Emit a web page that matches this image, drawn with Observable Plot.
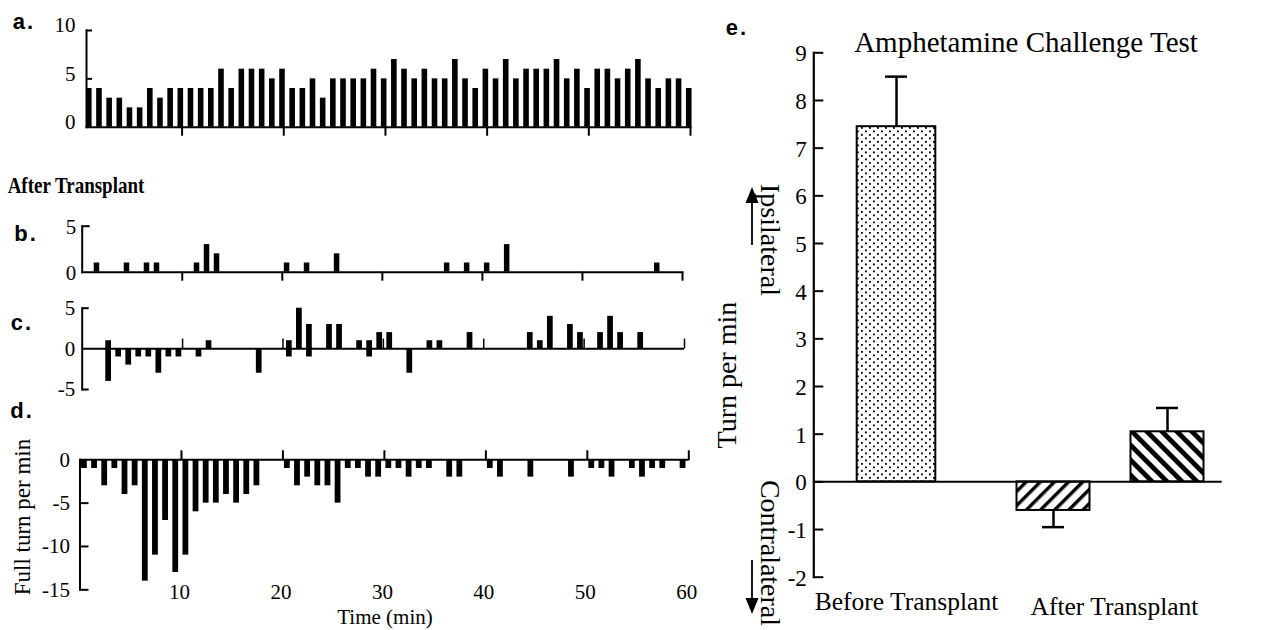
<!DOCTYPE html>
<html>
<head>
<meta charset="utf-8">
<script src="https://cdn.jsdelivr.net/npm/d3@7"></script>
<script src="https://cdn.jsdelivr.net/npm/@observablehq/plot@0.6"></script>
<style>
  html, body { margin: 0; padding: 0; background: #fff; }
  #fig { position: relative; width: 1275px; height: 630px; overflow: hidden; background: #fff; color: #000;
         font-family: "Liberation Serif", "Times New Roman", serif; }
  #fig > svg { position: absolute; }
  .t { position: absolute; white-space: nowrap; line-height: 1; transform: translate(-50%, -50%); }
  .letter { font-family: "Liberation Sans", Arial, sans-serif; font-weight: bold; font-size: 22px; letter-spacing: 2px; }
  .rot-up { transform: translate(-50%, -50%) rotate(-90deg); }
  .rot-down { transform: translate(-50%, -50%) rotate(90deg); }
</style>
</head>
<body>
<div id="fig">
  <div class="t letter" style="left:24px;top:22px">a.</div>
  <div class="t" style="left:76px;top:185px;font-weight:bold;font-size:19px;transform:translate(-50%,-50%) scaleY(1.2)">After Transplant</div>
  <div class="t letter" style="left:26px;top:234px">b.</div>
  <div class="t letter" style="left:22px;top:323px">c.</div>
  <div class="t letter" style="left:22px;top:411px">d.</div>
  <div class="t rot-up" style="left:22px;top:517px;font-size:23px">Full turn per min</div>
  <div class="t" style="left:385px;top:617px;font-size:21px">Time (min)</div>
  <div class="t letter" style="left:737px;top:28px">e.</div>
  <div class="t" style="left:1026px;top:42px;font-size:29px">Amphetamine Challenge Test</div>
  <div class="t rot-up" style="left:727px;top:375px;font-size:28px">Turn per min</div>
  <div class="t rot-down" style="left:770px;top:240px;font-size:28px">Ipsilateral</div>
  <div class="t rot-down" style="left:770px;top:553px;font-size:28px">Contralateral</div>
</div>
<script>
// ---------------- data ----------------
const xTicks = [10, 20, 30, 40, 50, 60];
const minuteIndex = d3.range(60);

// a. before transplant: full turns in each minute
const turnsBefore = [4,4,3,3,2,2,4,3,4,4, 4,4,4,6,4,6,6,6,5,6, 4,4,5,3,5,5,5,5,6,5,
                     7,6,5,6,5,5,7,5,4,6, 5,7,5,6,6,6,7,5,6,4, 6,6,5,6,7,5,4,5,5,4];
// b. after transplant, animal 1
const turnsB = [0,1,0,0,1,0,1,1,0,0, 0,1,3,2,0,0,0,0,0,0, 1,0,1,0,0,2,0,0,0,0,
                0,0,0,0,0,0,1,0,1,0, 1,0,3,0,0,0,0,0,0,0, 0,0,0,0,0,0,0,1,0,0];
// c. after transplant, animal 2 (ipsilateral up, contralateral down)
const ipsiC   = [0,0,1,0,0,0,0,0,0,0, 0,0,1,0,0,0,0,0,0,0, 1,5,3,0,3,3,0,1,1,2,
                 2,0,0,0,1,1,0,0,2,0, 0,0,0,0,2,1,4,0,3,2, 0,2,4,2,0,2,0,0,0,0];
const contraC = [0,0,-4,-1,-2,-1,-1,-3,-1,-1, 0,-1,0,0,0,0,0,-3,0,0, -1,0,-1,0,0,0,0,0,-1,0,
                 0,0,-3,0,0,0,0,0,0,0, 0,0,0,0,0,0,0,0,0,0, 0,0,0,0,0,0,0,0,0,0];
// d. after transplant, animal 3
const turnsD = [-1,-1,-3,-1,-4,-3,-14,-11,-7,-13, -11,-6,-5,-5,-4,-5,-4,-3,0,0,
                -1,-3,-2,-3,-3,-5,-1,-1,-2,-2, -1,-1,-2,-1,-1,0,-2,-2,0,0,
                -1,-2,0,0,-2,0,0,0,-2,0, -1,-1,-2,0,-1,-2,-1,-1,0,-1];

// e. amphetamine challenge test
const groups = ["Before Transplant", "After Transplant", "After Transplant"];
const meanTurns = [7.45, -0.6, 1.05];
const semTurns = [1.05, 0.35, 0.5];
const eTicks = [-2, -1, 0, 1, 2, 3, 4, 5, 6, 7, 8, 9];

// ---------------- helpers ----------------
const fig = document.getElementById("fig");
const rows = arr => minuteIndex.map(m => ({m, v: arr[m]})).filter(d => d.v !== 0);
function place(svg, left, top) {
  svg.style.left = left + "px";
  svg.style.top = top + "px";
  fig.appendChild(svg);
}
const baseStyle = {fontFamily: '"Liberation Serif", "Times New Roman", serif', fontSize: "21px",
                   background: "transparent", overflow: "visible", color: "black"};
const noText = () => "";
const plain = d => String(d);

// ---------------- panel a ----------------
{
  const W = 700, H = 145, mL = 86, mR = 10, mT = 30, mB = 18.3, fw = W - mL - mR;
  place(Plot.plot({
    width: W, height: H, marginLeft: mL, marginRight: mR, marginTop: mT, marginBottom: mB,
    style: baseStyle,
    x: {domain: [0.6, 60], axis: null},
    y: {domain: [0, 10], axis: null},
    marks: [
      Plot.rectY(rows(turnsBefore), {x1: d => d.m + 0.6, x2: d => d.m + 1.15, y: "v", fill: "black"}),
      Plot.frame({anchor: "left", strokeWidth: 2}),
      Plot.frame({anchor: "bottom", strokeWidth: 2}),
      Plot.tickY([5, 10], {insetRight: fw - 6, strokeWidth: 2}),
      Plot.axisX({ticks: xTicks, tickSize: 9, strokeWidth: 2, tickFormat: noText, label: null}),
      Plot.axisY({ticks: [0, 5, 10], tickSize: 0, tickPadding: 11, dy: -5, tickFormat: plain, label: null})
    ]
  }), 0, 0);
}

// ---------------- panel b ----------------
{
  const W = 700, H = 80, mL = 81.7, mR = 18, mT = 15.7, mB = 18.3, fw = W - mL - mR;
  place(Plot.plot({
    width: W, height: H, marginLeft: mL, marginRight: mR, marginTop: mT, marginBottom: mB,
    style: baseStyle,
    x: {domain: [0, 60], axis: null},
    y: {domain: [0, 5], axis: null},
    marks: [
      Plot.rectY(rows(turnsB), {x1: d => d.m + 0.2, x2: d => d.m + 0.75, y: "v", fill: "black"}),
      Plot.frame({anchor: "left", strokeWidth: 2}),
      Plot.frame({anchor: "bottom", strokeWidth: 2}),
      Plot.tickY([5], {insetRight: fw - 8, strokeWidth: 2}),
      Plot.axisX({ticks: xTicks, tickSize: 9, strokeWidth: 2, tickFormat: noText, label: null}),
      Plot.axisY({ticks: [0, 5], tickSize: 0, tickPadding: 6, dy: 1, tickFormat: plain, label: null})
    ]
  }), 0, 210);
}

// ---------------- panel c ----------------
{
  const W = 700, H = 105, mL = 81.7, mR = 16, mT = 12.7, mB = 11, fw = W - mL - mR;
  place(Plot.plot({
    width: W, height: H, marginLeft: mL, marginRight: mR, marginTop: mT, marginBottom: mB,
    style: baseStyle,
    x: {domain: [0, 60], axis: null},
    y: {domain: [-5, 5], axis: null},
    marks: [
      Plot.rectY(rows(ipsiC), {x1: d => d.m + 0.35, x2: d => d.m + 0.92, y: "v", fill: "black"}),
      Plot.rectY(rows(contraC), {x1: d => d.m + 0.35, x2: d => d.m + 0.92, y: "v", fill: "black"}),
      Plot.frame({anchor: "left", strokeWidth: 2}),
      Plot.ruleY([0], {strokeWidth: 2}),
      Plot.ruleX(xTicks, {y1: 0, y2: 1.2, strokeWidth: 1.5}),
      Plot.tickY([5, -5], {insetRight: fw - 7, strokeWidth: 2}),
      Plot.axisY({ticks: [-5, 0, 5], tickSize: 0, tickPadding: 7, tickFormat: plain, label: null})
    ]
  }), 0, 295);
}

// ---------------- panel d ----------------
{
  const W = 700, H = 190, mL = 79.5, mR = 11.7, mT = 19.3, mB = 40.7, fw = W - mL - mR;
  place(Plot.plot({
    width: W, height: H, marginLeft: mL, marginRight: mR, marginTop: mT, marginBottom: mB,
    style: baseStyle,
    x: {domain: [0, 60], axis: null},
    y: {domain: [-15, 0], axis: null},
    marks: [
      Plot.rectY(rows(turnsD), {x1: d => d.m + 0.15, x2: d => d.m + 0.72, y: "v", fill: "black"}),
      Plot.frame({anchor: "left", strokeWidth: 2}),
      Plot.ruleY([0], {strokeWidth: 2}),
      Plot.tickY([-5, -10, -15], {insetRight: fw - 9, strokeWidth: 2}),
      Plot.axisX({anchor: "top", ticks: xTicks, tickSize: 10, strokeWidth: 2, tickFormat: noText, label: null}),
      Plot.axisX({anchor: "bottom", ticks: xTicks, tickSize: 0, tickPadding: -6, dx: -2, tickFormat: plain, label: null}),
      Plot.axisY({ticks: [0, -5, -10, -15], tickSize: 0, tickPadding: 10, tickFormat: plain, label: null})
    ]
  }), 0, 440);
}

// ---------------- panel e ----------------
{
  const W = 575, H = 630, mL = 113.3, mR = 53.3, mT = 52.3, mB = 53.3, fw = W - mL - mR;
  const bars = groups.map((g, i) => ({group: g, mean: meanTurns[i], sem: semTurns[i]}));
  const look = [
    {fill: "url(#dots)", inset: 67.7, dx: 0},
    {fill: "url(#hatchA)", inset: 70.5, dx: -57},
    {fill: "url(#hatchB)", inset: 70.5, dx: 57}
  ];
  const errEnd = d => d.mean + Math.sign(d.mean) * d.sem;
  const barMarks = bars.flatMap((b, i) => [
    Plot.ruleX([b], {x: "group", y1: "mean", y2: errEnd, strokeWidth: 2.5, dx: look[i].dx}),
    Plot.tickY([b], {x: "group", y: errEnd, strokeWidth: 2.5, insetLeft: 96, insetRight: 96, dx: look[i].dx}),
    Plot.barY([b], {x: "group", y: "mean", fill: look[i].fill, stroke: "black", strokeWidth: 2,
                    insetLeft: look[i].inset, insetRight: look[i].inset, dx: look[i].dx})
  ]);
  place(Plot.plot({
    width: W, height: H, marginLeft: mL, marginRight: mR, marginTop: mT, marginBottom: mB,
    style: {...baseStyle, fontSize: "23px"},
    x: {type: "band", domain: ["Before Transplant", "After Transplant"], range: [89, 517], padding: 0, axis: null},
    y: {domain: [-2, 9], axis: null},
    marks: [
      ...barMarks,
      Plot.ruleY([0], {strokeWidth: 2}),
      Plot.frame({anchor: "left", strokeWidth: 2.2}),
      Plot.tickY(eTicks, {insetRight: fw - 10, strokeWidth: 2}),
      Plot.axisY({ticks: eTicks, tickSize: 0, tickPadding: 7, dy: 1, tickFormat: plain, label: null}),
      Plot.axisX({ticks: ["Before Transplant"], tickSize: 0, tickPadding: 15, dx: 10, fontSize: 25.5, label: null}),
      Plot.axisX({ticks: ["After Transplant"], tickSize: 0, tickPadding: 20, dx: 4, fontSize: 25.5, label: null})
    ]
  }), 700, 0);
}

// ---------------- overlay: fill patterns and direction arrows ----------------
{
  const svg = d3.select(fig).append("svg")
    .attr("width", 1275).attr("height", 630)
    .style("left", "0px").style("top", "0px").style("pointer-events", "none");
  const defs = svg.append("defs");
  const dots = defs.append("pattern").attr("id", "dots").attr("patternUnits", "userSpaceOnUse")
    .attr("width", 8).attr("height", 7);
  dots.append("rect").attr("width", 8).attr("height", 7).attr("fill", "white");
  dots.append("rect").attr("x", 1).attr("y", 1).attr("width", 1.8).attr("height", 1.8).attr("fill", "black");
  dots.append("rect").attr("x", 5).attr("y", 4.5).attr("width", 1.8).attr("height", 1.8).attr("fill", "black");
  const hatch = (id, w, stroke, angle) => {
    const p = defs.append("pattern").attr("id", id).attr("patternUnits", "userSpaceOnUse")
      .attr("width", w).attr("height", w).attr("patternTransform", `rotate(${angle})`);
    p.append("rect").attr("width", w).attr("height", w).attr("fill", "white");
    p.append("rect").attr("width", stroke).attr("height", w).attr("fill", "black");
  };
  hatch("hatchA", 10, 3.4, 45);
  hatch("hatchB", 10.6, 4.8, -45);
  // up arrow (ipsilateral)
  svg.append("line").attr("x1", 752).attr("x2", 752).attr("y1", 245).attr("y2", 200)
    .attr("stroke", "black").attr("stroke-width", 1.8);
  svg.append("path").attr("d", "M752,187L745.5,203L758.5,203Z").attr("fill", "black");
  // down arrow (contralateral)
  svg.append("line").attr("x1", 752).attr("x2", 752).attr("y1", 560).attr("y2", 600)
    .attr("stroke", "black").attr("stroke-width", 1.8);
  svg.append("path").attr("d", "M752,614L745.5,598L758.5,598Z").attr("fill", "black");
}
</script>
</body>
</html>
